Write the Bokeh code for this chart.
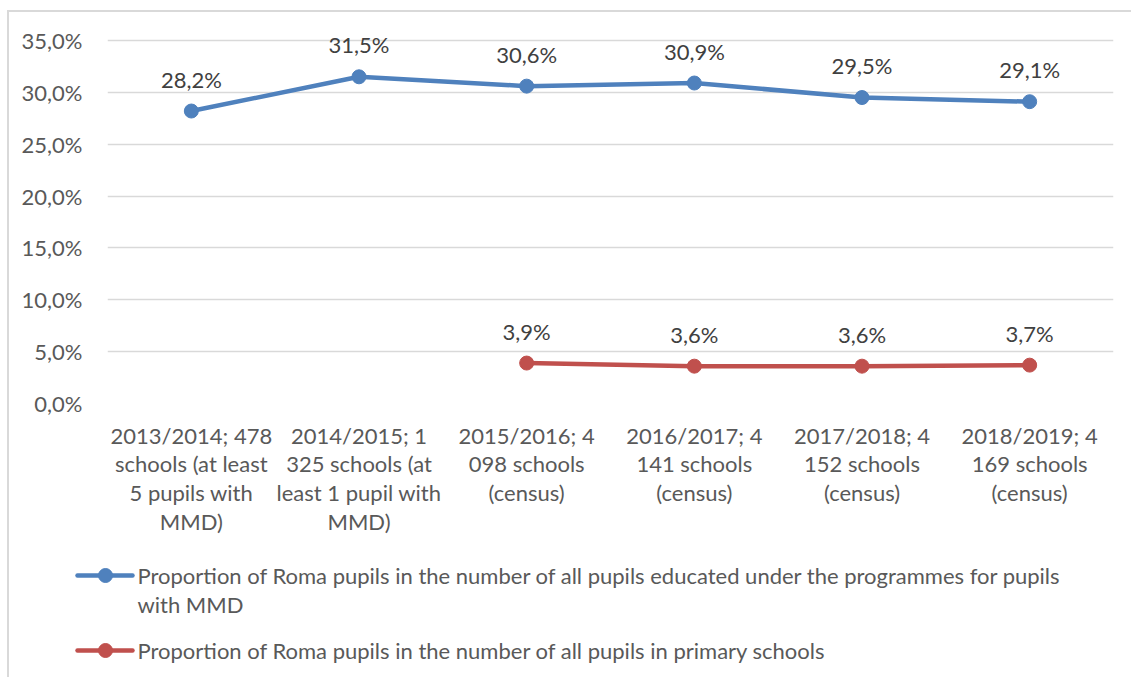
from bokeh.plotting import figure
from bokeh.layouts import column
from bokeh.models import FactorRange, Range1d, CustomJSTickFormatter, FixedTicker, ColumnDataSource
from bokeh.core.properties import value
from bokeh.embed import file_html
from bokeh.resources import INLINE

categories = [
    "2013/2014; 478\nschools (at least\n5 pupils with\nMMD)",
    "2014/2015; 1\n325 schools (at\nleast 1 pupil with\nMMD)",
    "2015/2016; 4\n098 schools\n(census)",
    "2016/2017; 4\n141 schools\n(census)",
    "2017/2018; 4\n152 schools\n(census)",
    "2018/2019; 4\n169 schools\n(census)",
]
mmd_share = [28.2, 31.5, 30.6, 30.9, 29.5, 29.1]
primary_share = [None, None, 3.9, 3.6, 3.6, 3.7]
series_names = [
    ["Proportion of Roma pupils in the number of all pupils educated under the programmes for pupils", "with MMD"],
    ["Proportion of Roma pupils in the number of all pupils in primary schools"],
]
series_colors = ["#4f81bd", "#c0504d"]
y_ticks = [0, 5, 10, 15, 20, 25, 30, 35]

FONT = "Lato"
FS = "22px"
TXT = "#595959"
W = 1122
FRAME_H = 387
H_TOP = 4 + FRAME_H + 148
H_LEG = 665 - H_TOP

p = figure(width=W, height=H_TOP, x_range=FactorRange(*categories),
           y_range=Range1d(0, 35 * FRAME_H / 363.0),
           output_backend="svg", toolbar_location=None,
           min_border_left=98, min_border_right=18, min_border_top=4, min_border_bottom=148)
p.frame_align = False
p.outline_line_color = None
p.xgrid.grid_line_color = None
p.ygrid.grid_line_color = "#d9d9d9"
p.ygrid.grid_line_width = 1.3
p.yaxis.ticker = FixedTicker(ticks=y_ticks)
p.yaxis.formatter = CustomJSTickFormatter(code="return tick.toFixed(1).replace('.', ',') + '%';")
for ax in (p.xaxis[0], p.yaxis[0]):
    ax.axis_line_color = None
    ax.major_tick_line_color = None
    ax.minor_tick_line_color = None
    ax.major_label_text_font = FONT
    ax.major_label_text_font_size = FS
    ax.major_label_text_color = TXT
p.yaxis.major_label_standoff = 19
p.xaxis.major_label_standoff = 12
p.xaxis.major_label_text_line_height = 1.07

def fmt(v):
    return ("%.1f" % v).replace(".", ",") + "%"

all_series = [mmd_share, primary_share]
for vals, col in zip(all_series, series_colors):
    xs = [c for c, v in zip(categories, vals) if v is not None]
    ys = [v for v in vals if v is not None]
    src = ColumnDataSource(dict(x=xs, y=ys, t=[fmt(v) for v in ys]))
    p.line("x", "y", source=src, line_color=col, line_width=4.5, line_join="round", line_cap="round")
    p.scatter("x", "y", source=src, size=14, fill_color=col, line_color=col)
    p.text("x", "y", text="t", source=src, y_offset=-32, text_align="center", text_baseline="middle",
           text_font=value(FONT), text_font_size=FS, text_color="#404040")

leg = figure(width=W, height=H_LEG, x_range=Range1d(0, W), y_range=Range1d(0, H_LEG),
             x_axis_type=None, y_axis_type=None,
             output_backend="svg", toolbar_location=None, min_border=0,
             min_border_left=0, min_border_right=0, min_border_top=0, min_border_bottom=0)
leg.frame_align = False
leg.outline_line_color = None
leg.grid.visible = False
legend_top = 12 + H_TOP
item_tops = [575 - legend_top, 650 - legend_top]
for name, col, yt in zip(series_names, series_colors, item_tops):
    yy = H_LEG - yt
    leg.line([68, 123], [yy, yy], line_color=col, line_width=4.5, line_cap="round")
    leg.scatter([96], [yy], size=14, fill_color=col, line_color=col)
    lines = name
    leg.text([128] * len(lines), [yy - i * 29 for i in range(len(lines))], text=lines,
             text_align="left", text_baseline="middle", text_font=value(FONT),
             text_font_size=FS, text_color=TXT)

layout = column(p, leg, spacing=0, margin=(10, 0, 0, 7),
                styles={"border-left": "2px solid #d9d9d9", "border-top": "2px solid #d9d9d9"})
open("out.html", "w").write(file_html(layout, INLINE))
